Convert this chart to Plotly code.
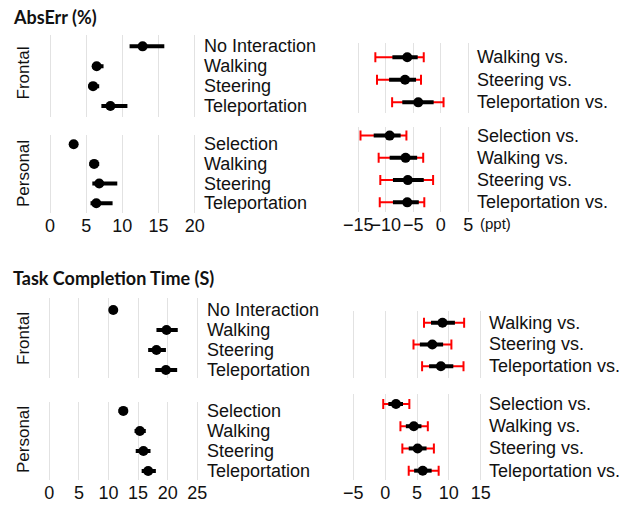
import plotly.graph_objects as go

W, H = 632, 506

# ---------------- data ----------------
abs_frontal_labels = ["No Interaction", "Walking", "Steering", "Teleportation"]
abs_frontal_mean = [12.8, 6.45, 5.95, 8.35]
abs_frontal_lo = [11.0, 5.8, 5.3, 7.1]
abs_frontal_hi = [15.8, 7.4, 6.8, 10.7]

abs_personal_labels = ["Selection", "Walking", "Steering", "Teleportation"]
abs_personal_mean = [3.27, 6.1, 6.8, 6.4]
abs_personal_lo = [3.0, 5.45, 5.85, 5.6]
abs_personal_hi = [3.5, 6.8, 9.3, 8.65]

absd_frontal_labels = ["Walking vs.", "Steering vs.", "Teleportation vs."]
absd_frontal_mean = [-6.1, -6.5, -4.1]
absd_frontal_lo50 = [-8.8, -9.4, -7.0]
absd_frontal_hi50 = [-4.2, -4.5, -1.3]
absd_frontal_lo95 = [-11.9, -11.6, -8.85]
absd_frontal_hi95 = [-3.1, -3.6, 0.5]

absd_personal_labels = ["Selection vs.", "Walking vs.", "Steering vs.", "Teleportation vs."]
absd_personal_mean = [-9.3, -6.4, -6.0, -6.1]
absd_personal_lo50 = [-12.2, -9.3, -8.7, -8.7]
absd_personal_hi50 = [-7.3, -4.3, -3.1, -4.0]
absd_personal_lo95 = [-14.6, -11.3, -11.0, -11.1]
absd_personal_hi95 = [-6.25, -3.2, -1.4, -3.0]

tct_frontal_labels = ["No Interaction", "Walking", "Steering", "Teleportation"]
tct_frontal_mean = [10.8, 19.8, 18.1, 19.7]
tct_frontal_lo = [10.4, 18.1, 16.7, 17.9]
tct_frontal_hi = [11.2, 21.7, 19.7, 21.6]

tct_personal_labels = ["Selection", "Walking", "Steering", "Teleportation"]
tct_personal_mean = [12.5, 15.3, 15.9, 16.7]
tct_personal_lo = [11.7, 14.4, 14.6, 15.6]
tct_personal_hi = [13.3, 16.3, 17.1, 18.0]

tctd_frontal_labels = ["Walking vs.", "Steering vs.", "Teleportation vs."]
tctd_frontal_mean = [9.0, 7.4, 8.75]
tctd_frontal_lo50 = [7.2, 5.45, 6.9]
tctd_frontal_hi50 = [10.95, 9.1, 10.7]
tctd_frontal_lo95 = [6.1, 4.45, 5.8]
tctd_frontal_hi95 = [12.4, 10.4, 12.3]

tctd_personal_labels = ["Selection vs.", "Walking vs.", "Steering vs.", "Teleportation vs."]
tctd_personal_mean = [1.7, 4.5, 5.1, 5.9]
tctd_personal_lo50 = [0.5, 3.25, 3.7, 4.55]
tctd_personal_hi50 = [2.8, 5.7, 6.5, 7.3]
tctd_personal_lo95 = [-0.3, 2.4, 2.7, 3.7]
tctd_personal_hi95 = [3.8, 6.7, 7.65, 8.4]

abs_ticks = [0, 5, 10, 15, 20]
absd_ticks = [-15, -10, -5, 0, 5]
tct_ticks = [0, 5, 10, 15, 20, 25]
tctd_ticks = [-5, 0, 5, 10, 15]

# ---------------- layout helpers ----------------
FONT = "Liberation Sans, Arial, sans-serif"
TXT = "#111111"


def xdom(va, pa, vb, pb, rng):
    s = (pb - pa) / (vb - va)
    l = pa + (rng[0] - va) * s
    r = pa + (rng[1] - va) * s
    return [l / W, r / W]


def ydom(ptop, pbot):
    return [1 - pbot / H, 1 - ptop / H]


panels = [
    dict(xd=xdom(0, 50, 20, 194.7, [-0.5, 20.5]), xr=[-0.5, 20.5], yd=ydom(35, 117), yr=[3.55, -0.57],
         ticks=abs_ticks, show=False, lab=abs_frontal_labels, labx=202,
         m=abs_frontal_mean, lo=abs_frontal_lo, hi=abs_frontal_hi),
    dict(xd=xdom(0, 50, 20, 194.7, [-0.5, 20.5]), xr=[-0.5, 20.5], yd=ydom(135, 213), yr=[3.5, -0.47],
         ticks=abs_ticks, show=True, lab=abs_personal_labels, labx=202,
         m=abs_personal_mean, lo=abs_personal_lo, hi=abs_personal_hi),
    dict(xd=xdom(-15, 358.3, 5, 468.3, [-15.5, 5.5]), xr=[-15.5, 5.5], yd=ydom(43.3, 112.7), yr=[2.46, -0.62],
         ticks=absd_ticks, show=False, lab=absd_frontal_labels, labx=475,
         m=absd_frontal_mean, lo=absd_frontal_lo50, hi=absd_frontal_hi50,
         lo95=absd_frontal_lo95, hi95=absd_frontal_hi95),
    dict(xd=xdom(-15, 358.3, 5, 468.3, [-15.5, 5.5]), xr=[-15.5, 5.5], yd=ydom(126.7, 211.7), yr=[3.42, -0.4],
         ticks=absd_ticks, show=True, lab=absd_personal_labels, labx=475,
         m=absd_personal_mean, lo=absd_personal_lo50, hi=absd_personal_hi50,
         lo95=absd_personal_lo95, hi95=absd_personal_hi95),
    dict(xd=xdom(0, 49.3, 25, 197.3, [-0.5, 25.5]), xr=[-0.5, 25.5], yd=ydom(298.3, 377.7), yr=[3.38, -0.58],
         ticks=tct_ticks, show=False, lab=tct_frontal_labels, labx=205,
         m=tct_frontal_mean, lo=tct_frontal_lo, hi=tct_frontal_hi),
    dict(xd=xdom(0, 49.3, 25, 197.3, [-0.5, 25.5]), xr=[-0.5, 25.5], yd=ydom(402.3, 480), yr=[3.45, -0.43],
         ticks=tct_ticks, show=True, lab=tct_personal_labels, labx=205,
         m=tct_personal_mean, lo=tct_personal_lo, hi=tct_personal_hi),
    dict(xd=xdom(-5, 353.3, 15, 480.7, [-5.5, 15.5]), xr=[-5.5, 15.5], yd=ydom(311, 377.7), yr=[2.53, -0.54],
         ticks=tctd_ticks, show=False, lab=tctd_frontal_labels, labx=487,
         m=tctd_frontal_mean, lo=tctd_frontal_lo50, hi=tctd_frontal_hi50,
         lo95=tctd_frontal_lo95, hi95=tctd_frontal_hi95),
    dict(xd=xdom(-5, 353.3, 15, 480.7, [-5.5, 15.5]), xr=[-5.5, 15.5], yd=ydom(394, 480), yr=[3.42, -0.45],
         ticks=tctd_ticks, show=True, lab=tctd_personal_labels, labx=487,
         m=tctd_personal_mean, lo=tctd_personal_lo50, hi=tctd_personal_hi50,
         lo95=tctd_personal_lo95, hi95=tctd_personal_hi95),
]

fig = go.Figure()
layout = dict(
    width=W, height=H, margin=dict(l=0, r=0, t=0, b=0, pad=0, autoexpand=False),
    paper_bgcolor="white", plot_bgcolor="white", showlegend=False,
    font=dict(family=FONT, size=18, color=TXT),
)
annotations = []

for k, p in enumerate(panels, start=1):
    xa = "x" if k == 1 else f"x{k}"
    ya = "y" if k == 1 else f"y{k}"
    ys = list(range(len(p["m"])))
    if "lo95" in p:
        fig.add_trace(go.Scatter(
            x=p["m"], y=ys, xaxis=xa, yaxis=ya, mode="markers",
            marker=dict(size=1, color="rgba(0,0,0,0)"),
            error_x=dict(type="data", symmetric=False,
                         array=[h - m for h, m in zip(p["hi95"], p["m"])],
                         arrayminus=[m - l for l, m in zip(p["lo95"], p["m"])],
                         color="#ff0000", thickness=2, width=5),
            hoverinfo="skip"))
    fig.add_trace(go.Scatter(
        x=p["m"], y=ys, xaxis=xa, yaxis=ya, mode="markers",
        marker=dict(size=10, color="black"),
        error_x=dict(type="data", symmetric=False,
                     array=[h - m for h, m in zip(p["hi"], p["m"])],
                     arrayminus=[m - l for l, m in zip(p["lo"], p["m"])],
                     color="black", thickness=4, width=0)))
    layout["xaxis" if k == 1 else f"xaxis{k}"] = dict(
        domain=p["xd"], range=p["xr"], anchor=ya, tickvals=p["ticks"],
        showticklabels=p["show"], showgrid=True, gridcolor="#e2e2e2", gridwidth=1,
        zeroline=False, showline=False, ticks="", tickangle=0, automargin=False,
        tickfont=dict(size=18, color=TXT, family=FONT), fixedrange=True)
    layout["yaxis" if k == 1 else f"yaxis{k}"] = dict(
        domain=p["yd"], range=p["yr"], anchor=xa, showticklabels=False, automargin=False,
        showgrid=False, zeroline=False, showline=False, ticks="", fixedrange=True)
    for i, lab in enumerate(p["lab"]):
        annotations.append(dict(
            text=lab, xref="paper", x=p["labx"] / W, xanchor="left",
            yref=ya, y=i, yanchor="middle", showarrow=False,
            font=dict(size=18, color=TXT, family=FONT)))

# titles and group labels
titles = [("AbsErr (%)", 17), ("Task Completion Time (S)", 278)]
for t, py in titles:
    annotations.append(dict(text=f"<b>{t}</b>", xref="paper", yref="paper",
                            x=11 / W, y=1 - py / H, xanchor="left", yanchor="middle",
                            showarrow=False, font=dict(size=18, color=TXT, family="Lato, Open Sans, sans-serif")))
groups = [("Frontal", 73.5), ("Personal", 174), ("Frontal", 339), ("Personal", 440)]
for g, py in groups:
    annotations.append(dict(text=g, xref="paper", yref="paper", x=23 / W, y=1 - py / H,
                            xanchor="center", yanchor="middle", textangle=-90, showarrow=False,
                            font=dict(size=17, color=TXT, family=FONT)))
annotations.append(dict(text="(ppt)", xref="paper", yref="paper", x=478 / W, y=1 - 223 / H,
                        xanchor="left", yanchor="middle", showarrow=False,
                        font=dict(size=15, color=TXT, family=FONT)))

layout["annotations"] = annotations
fig.update_layout(**layout)
fig.write_html("out.html", config={"displayModeBar": False},
               post_script="document.body.style.margin='0';")
